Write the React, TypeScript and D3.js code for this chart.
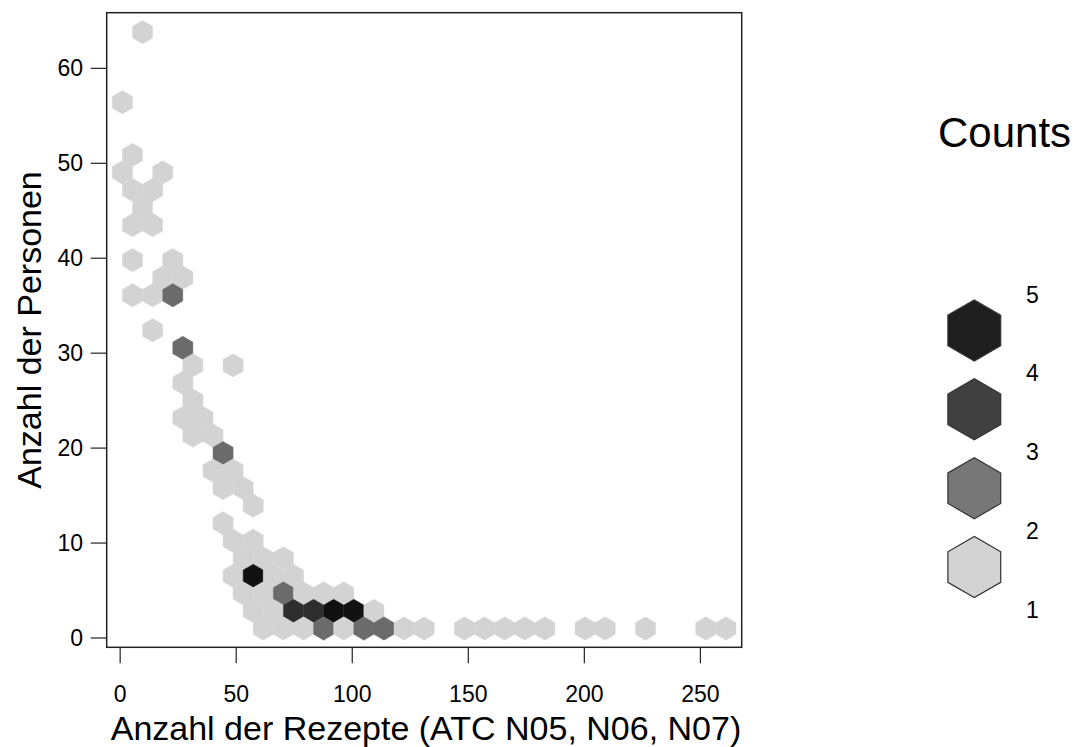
import React from "react";
import * as d3 from "d3";

// Axis ticks
const xTicks = [0, 50, 100, 150, 200, 250];
const yTicks = [0, 10, 20, 30, 40, 50, 60];

// Legend count breaks (top to bottom)
const legendBreaks = [5, 4, 3, 2, 1];
const legendFills = ["#1e1e1e", "#404040", "#777777", "#d3d3d3"];

// Fill used for a cell holding 1..5 observations
const countFills = ["#d3d3d3", "#6b6b6b", "#2e2e2e", "#121212", "#101010"];

// Hexagonal binning grid (same convention as R's hexbin: row i, column j)
const xbins = 30;
const shape = 1;
const xbnds = [1, 261];
const ybnds = [1, 65];

// Occupied hexagon cells: row index, column index, count
const cellRow = [
  34, 30, 27, 26, 26, 25, 25, 24, 23, 23,
  21, 21, 20, 20, 19, 19, 19, 17, 16, 15, 15,
  14, 13, 12, 12, 11, 11, 10, 9, 9, 8, 8, 7, 6, 5, 5,
  4, 4, 4,
  3, 3, 3, 3,
  2, 2, 2, 2, 2, 2,
  1, 1, 1, 1, 1, 1, 1,
  0, 0, 0, 0, 0, 0, 0, 0, 0, 0, 0, 0, 0, 0, 0, 0, 0, 0, 0,
];
const cellCol = [
  1, 0, 0, 0, 2, 0, 1, 1, 0, 1,
  0, 2, 2, 3, 0, 1, 2, 1, 3, 3, 5,
  3, 3, 3, 4, 3, 4, 5, 4, 5, 5, 6, 6, 5, 5, 6,
  6, 7, 8,
  5, 6, 7, 8,
  6, 7, 8, 9, 10, 11,
  6, 7, 8, 9, 10, 11, 12,
  7, 8, 9, 10, 11, 12, 13, 14, 15, 17, 18, 19, 20, 21, 23, 24, 26, 29, 30,
];
const cellCount = [
  1, 1, 1, 1, 1, 1, 1, 1, 1, 1,
  1, 1, 1, 1, 1, 1, 2, 1, 2, 1, 1,
  1, 1, 1, 1, 1, 1, 2, 1, 1, 1, 1, 1, 1, 1, 1,
  1, 1, 1,
  1, 4, 1, 1,
  1, 1, 2, 1, 1, 1,
  1, 1, 3, 3, 5, 4, 1,
  1, 1, 1, 2, 1, 2, 2, 1, 1, 1, 1, 1, 1, 1, 1, 1, 1, 1, 1,
];

const W = 1082;
const H = 747;
const plot = { left: 106.7, right: 741.7, top: 12.7, bottom: 647.3 };
const font = "'Liberation Sans', Arial, Helvetica, sans-serif";

function hexPath(cx: number, cy: number, dx: number, dy: number) {
  const p = d3.path();
  p.moveTo(cx + dx, cy - dy);
  p.lineTo(cx, cy - 2 * dy);
  p.lineTo(cx - dx, cy - dy);
  p.lineTo(cx - dx, cy + dy);
  p.lineTo(cx, cy + 2 * dy);
  p.lineTo(cx + dx, cy + dy);
  p.closePath();
  return p.toString();
}

export default function App() {
  const x = d3.scaleLinear().domain([-5.8, 267.8]).range([plot.left, plot.right]);
  const y = d3.scaleLinear().domain([-0.98, 65.86]).range([plot.bottom, plot.top]);

  // cell size in data units
  const c3 = (xbnds[1] - xbnds[0]) / xbins;
  const c4 = ((ybnds[1] - ybnds[0]) * Math.sqrt(3)) / (2 * shape * xbins);
  const hdx = x(c3 / 2) - x(0);
  const hdy = y(0) - y(c4 / 3);

  const cells = cellRow.map((i, k) => {
    const j = cellCol[k];
    const cx = xbnds[0] + c3 * (i % 2 === 0 ? j : j + 0.5);
    const cy = ybnds[0] + c4 * i;
    return { cx, cy, count: cellCount[k] };
  });

  // legend
  const ly = d3.scaleLinear().domain([5, 1]).range([294.5, 610]);
  const legendX = 974.3;
  const legendR = 30.5;
  const ldx = (legendR * Math.sqrt(3)) / 2;
  const ldy = legendR / 2;

  return (
    <svg
      width={W}
      height={H}
      style={{ position: "absolute", left: 0, top: 0, background: "#fff" }}
      fontFamily={font}
    >
      <rect x={0} y={0} width={W} height={H} fill="#fff" />
      {/* hexagon cells */}
      <g>
        {cells.map((c, k) => (
          <path
            key={k}
            d={hexPath(x(c.cx), y(c.cy), hdx, hdy)}
            fill={countFills[c.count - 1]}
            stroke={countFills[c.count - 1]}
            strokeWidth={0.4}
          />
        ))}
      </g>
      {/* frame */}
      <rect
        x={plot.left}
        y={plot.top}
        width={plot.right - plot.left}
        height={plot.bottom - plot.top}
        fill="none"
        stroke="#222"
        strokeWidth={1.5}
      />
      {/* x axis */}
      <g>
        {xTicks.map((t) => (
          <g key={t}>
            <line x1={x(t)} x2={x(t)} y1={plot.bottom} y2={plot.bottom + 16} stroke="#222" strokeWidth={1.2} />
            <text x={x(t)} y={702} textAnchor="middle" fontSize={23} fill="#000">
              {t}
            </text>
          </g>
        ))}
        <text x={426} y={740} textAnchor="middle" fontSize={34} fill="#000">
          Anzahl der Rezepte (ATC N05, N06, N07)
        </text>
      </g>
      {/* y axis */}
      <g>
        {yTicks.map((t) => (
          <g key={t}>
            <line x1={plot.left - 16} x2={plot.left} y1={y(t)} y2={y(t)} stroke="#222" strokeWidth={1.2} />
            <text x={83} y={y(t) + 8} textAnchor="end" fontSize={23} fill="#000">
              {t}
            </text>
          </g>
        ))}
        <text
          transform={`translate(41, ${(plot.top + plot.bottom) / 2}) rotate(-90)`}
          textAnchor="middle"
          fontSize={34}
          fill="#000"
        >
          Anzahl der Personen
        </text>
      </g>
      {/* legend */}
      <g>
        <text x={938} y={147} fontSize={42} fill="#000">
          Counts
        </text>
        {legendFills.map((f, k) => {
          const cy = (ly(legendBreaks[k]) + ly(legendBreaks[k + 1])) / 2 - 3.5;
          return (
            <path
              key={k}
              d={hexPath(legendX, cy, ldx, ldy)}
              fill={f}
              stroke="#333"
              strokeWidth={1.2}
            />
          );
        })}
        {legendBreaks.map((b) => (
          <text key={b} x={1026} y={ly(b) + 8} fontSize={23} fill="#000">
            {b}
          </text>
        ))}
      </g>
    </svg>
  );
}
